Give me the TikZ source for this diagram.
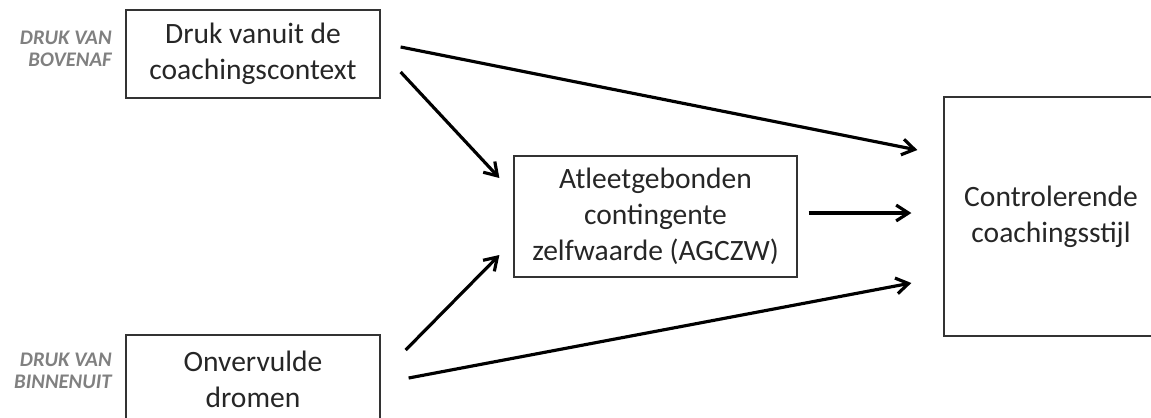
\documentclass[tikz,border=0pt]{standalone}
\usepackage{fontspec}
\setmainfont{Carlito}
\usepackage{tikz}
\usetikzlibrary{arrows.meta}

\begin{document}
\begin{tikzpicture}[x=0.02cm, y=-0.02cm,
  font=\fontsize{16.8}{20.5}\selectfont, text=black!85,
  box/.style={draw=black!80, line width=0.75pt, align=center, inner sep=0pt},
  side/.style={font=\fontsize{11.8}{12.2}\selectfont\bfseries\itshape, text=black!50, align=right, anchor=east, inner sep=0pt},
  arr/.style={-{Straight Barb[length=7pt, width=9pt]}, line width=1.8pt}]
\useasboundingbox (0,0) rectangle (1151,417);
\clip (0,0) rectangle (1151,417);
\node[box, minimum width=5.08cm, minimum height=1.76cm] (top) at (253,54) {Druk vanuit de\\coachingscontext};
\node[box, minimum width=5.08cm, minimum height=1.76cm] (bot) at (253,379) {Onvervulde\\dromen};
\node[box, minimum width=5.66cm, minimum height=2.42cm] (agczw) at (655.5,216.5) {Atleetgebonden\\contingente\\zelfwaarde (AGCZW)};
\node[box, minimum width=4.28cm, minimum height=4.78cm] (stijl) at (1051,216.5) {Controlerende\\coachingsstijl};
\node[side] (lab1) at (112,49) {DRUK VAN\\BOVENAF};
\node[side] (lab2) at (112,371) {DRUK VAN\\BINNENUIT};
\draw[arr] ([shift={(20,-7)}]top.east) -- ([shift={(-26,-66.5)}]stijl.west);
\draw[arr] ([shift={(20,18)}]top.east) -- ([shift={(-14,-38.5)}]agczw.west);
\draw[arr] ([shift={(25,-29)}]bot.east) -- ([shift={(-14,38.5)}]agczw.west);
\draw[arr] ([shift={(28,-1)}]bot.east) -- ([shift={(-32,66.5)}]stijl.west);
\draw[arr] ([shift={(11,-3.5)}]agczw.east) -- ([shift={(-32,-3.5)}]stijl.west);
\end{tikzpicture}
\end{document}
